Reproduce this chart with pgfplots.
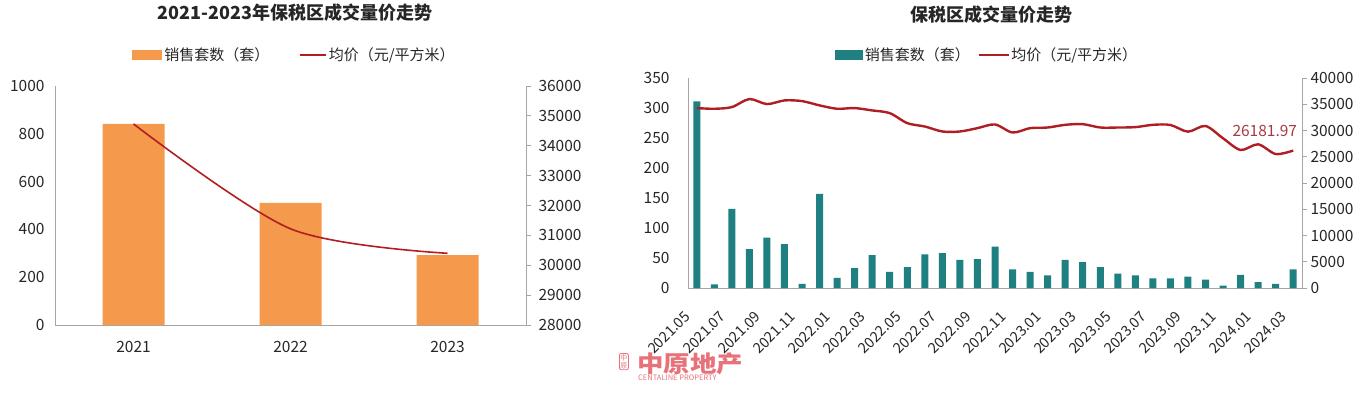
\documentclass[border=0pt]{standalone}
\usepackage{pgfplots}
\pgfplotsset{compat=1.18}
\usepackage{pgfplotstable}
\usepackage{fontspec}
\setmainfont{Noto Sans CJK SC}
\definecolor{barorange}{HTML}{F59A4C}
\definecolor{barteal}{HTML}{1F8082}
\definecolor{linered}{HTML}{B01E23}
\definecolor{labelred}{HTML}{A63A42}
\definecolor{axgray}{HTML}{A6A6A6}
\definecolor{txt}{HTML}{262626}
\definecolor{logored}{HTML}{E8727A}

\pgfplotstableread{
i n
0 842
1 511
2 292
}\yearbars
\pgfplotstableread{
i p
0 34730
1 31220
2 30400
}\yearprice
\pgfplotstableread{
i n p
0 311 34270
1 6 34140
2 132 34460
3 65 35990
4 84 35030
5 73 35730
6 7 35600
7 157 34780
8 17 34140
9 33 34270
10 55 33820
11 27 33310
12 35 31400
13 56 30760
14 58 29810
15 47 29810
16 48 30450
17 69 31150
18 31 29620
19 27 30450
20 21 30570
21 47 31080
22 43 31210
23 35 30570
24 24 30570
25 21 30640
26 16 31080
27 16 31050
28 19 29780
29 14 30860
30 4 28510
31 22 26290
32 10 27370
33 7 25520
34 31 26181.97
}\monthly

\pgfplotsset{
  base/.style={scale only axis, clip=false,
    scaled y ticks=false,
    /pgf/number format/assume math mode=true,
    /pgf/number format/1000 sep={},
    tick label style={font=\fontsize{15.5}{16}\selectfont, text=txt},
    axis line style={axgray, line width=0.8pt},
    major tick length=0pt},
  rightax/.style={axis y line*=right, axis x line=none,
    major tick length=5pt, tick align=outside,
    ytick style={axgray, line width=0.8pt}},
}

\begin{document}
\begin{tikzpicture}
\useasboundingbox (0pt,0pt) rectangle (1369pt,394pt);

% ---------------- left chart ----------------
\begin{axis}[base, at={(55pt,69pt)}, anchor=south west, width=471pt, height=239pt,
  xmin=-0.5, xmax=2.5, ymin=0, ymax=1000, ytick={0,200,...,1000},
  xtick={0,1,2}, xticklabels={2021,2022,2023},
  xticklabel style={yshift=-13pt},
  yticklabel style={xshift=-7pt},
  axis x line*=bottom, axis y line*=left,
  ybar, bar width=62pt,
  legend style={at={(0.5085,1.13)}, anchor=center, draw=none, fill=none,
    font=\fontsize{15}{15}\selectfont, text=txt,
    /tikz/every even column/.append style={column sep=28pt}},
  legend columns=2]
\addplot[fill=barorange, draw=none,
  legend image code/.code={\fill[barorange] (0pt,-5pt) rectangle (30pt,5pt);}]
  table[x=i,y=n] {\yearbars};
\addlegendentry{销售套数（套）}
\addlegendimage{legend image code/.code={\draw[linered, line width=1.5pt] (0pt,0pt) -- (26pt,0pt);}}
\addlegendentry{均价（元/平方米）}
\end{axis}
\begin{axis}[base, rightax, at={(55pt,69pt)}, anchor=south west, width=471pt, height=239pt,
  xmin=-0.5, xmax=2.5, ymin=28000, ymax=36000, ytick={28000,29000,...,36000},
  yticklabel style={xshift=4pt}]
\addplot[linered, line width=1.6pt, smooth, no marks] table[x=i,y=p] {\yearprice};
\end{axis}

% ---------------- right chart ----------------
\begin{axis}[base, at={(688pt,106pt)}, anchor=south west, width=614pt, height=210pt,
  xmin=-0.5, xmax=34.5, ymin=0, ymax=350, ytick={0,50,...,350},
  xtick={0,2,...,34},
  xticklabels={2021.05,2021.07,2021.09,2021.11,2022.01,2022.03,2022.05,2022.07,2022.09,2022.11,2023.01,2023.03,2023.05,2023.07,2023.09,2023.11,2024.01,2024.03},
  xticklabel style={xshift=-13pt, yshift=-22pt, rotate=45, anchor=north east, inner sep=0pt,
    font=\fontsize{14.5}{15}\selectfont},
  yticklabel style={xshift=-15pt},
  axis x line*=bottom, axis y line*=left,
  ybar, bar width=7pt,
  legend style={at={(0.487,1.1095)}, anchor=center, draw=none, fill=none,
    font=\fontsize{15}{15}\selectfont, text=txt,
    /tikz/every even column/.append style={column sep=6pt}},
  legend columns=2]
\addplot[fill=barteal, draw=none,
  legend image code/.code={\fill[barteal] (0pt,-5pt) rectangle (28pt,5pt);}]
  table[x=i,y=n] {\monthly};
\addlegendentry{销售套数（套）}
\addlegendimage{legend image code/.code={\draw[linered, line width=1.5pt] (0pt,0pt) -- (30pt,0pt);}}
\addlegendentry{均价（元/平方米）}
\end{axis}
\begin{axis}[base, rightax, at={(688pt,106pt)}, anchor=south west, width=614pt, height=210pt,
  xmin=-0.5, xmax=34.5, ymin=0, ymax=40000, ytick={0,5000,...,40000}]
\addplot[linered, line width=2.4pt, smooth, no marks] table[x=i,y=p] {\monthly};
\node[anchor=south east, text=labelred, font=\fontsize{15.5}{16}\selectfont, inner sep=0pt,
  xshift=4pt, yshift=14pt] at (axis cs:34,26181.97) {26181.97};
\end{axis}

% ---------------- titles ----------------
\node[font=\fontsize{18}{18}\selectfont\bfseries, text=txt] at (295pt,381pt) {2021-2023年保税区成交量价走势};
\node[font=\fontsize{18}{18}\selectfont\bfseries, text=txt] at (991pt,379pt) {保税区成交量价走势};

% ---------------- logo ----------------
\node[draw=logored, rounded corners=2pt, line width=0.8pt, inner sep=1pt, text=logored,
  font=\fontsize{7}{8}\selectfont, align=center, anchor=north west] at (619pt,41pt) {中\\原};
\node[text=logored, font=\fontsize{23}{23}\selectfont\bfseries, anchor=north west, inner sep=0pt] at (637pt,42pt) {\scalebox{1.15}[1]{中原地产}};
\node[text=logored, font=\fontsize{7.5}{8}\selectfont, anchor=north west, inner sep=0pt] at (638pt,19pt) {CENTALINE PROPERTY};
\end{tikzpicture}
\end{document}
